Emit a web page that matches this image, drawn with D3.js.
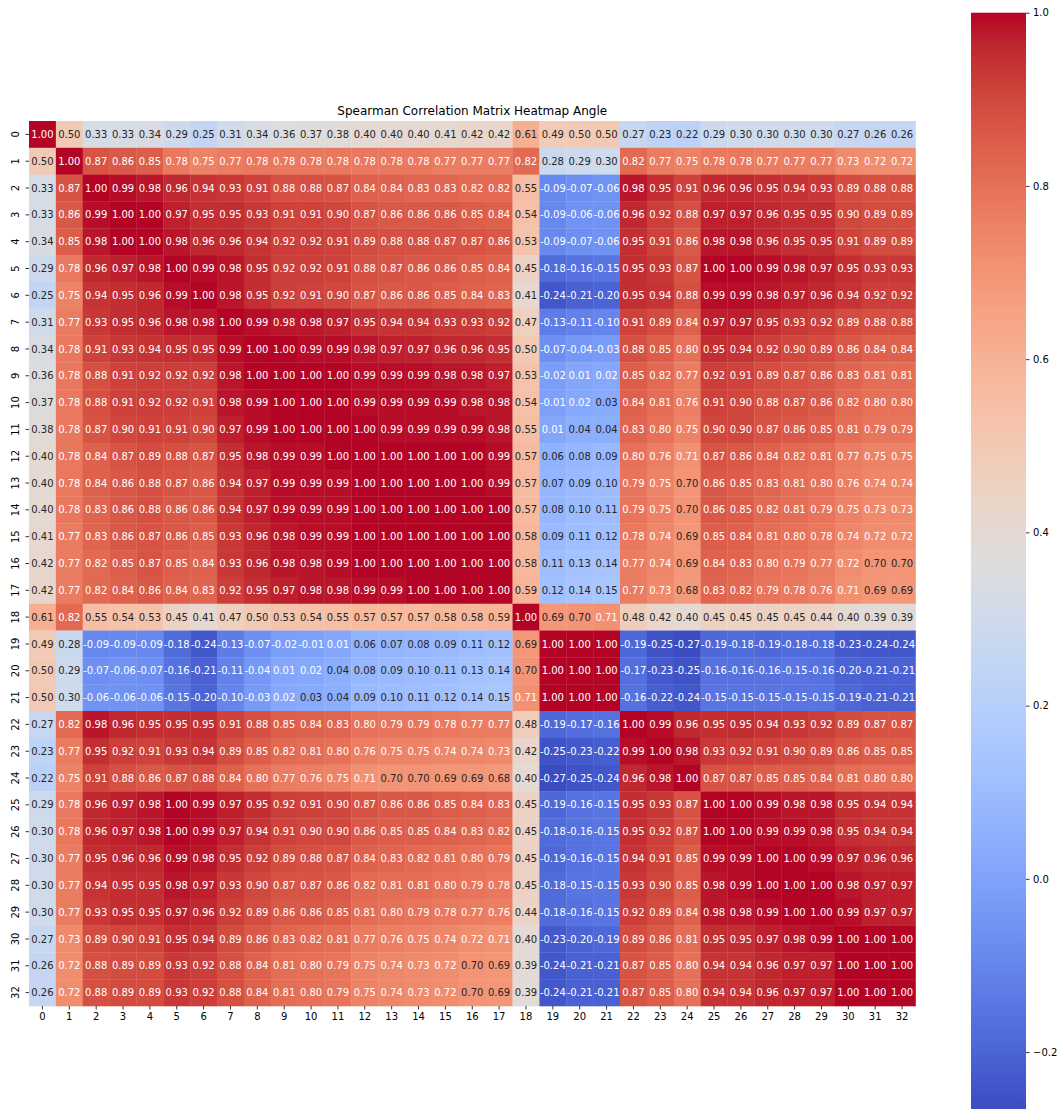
<!DOCTYPE html>
<html>
<head>
<meta charset="utf-8">
<script src="https://cdn.jsdelivr.net/npm/d3@7"></script>
<style>
  body { margin: 0; background: #fff; }
  text { font-family: "DejaVu Sans", sans-serif; }
</style>
</head>
<body>
<div id="chart"></div>
<script>
const title = "Spearman Correlation Matrix Heatmap Angle";

const labels = ["0","1","2","3","4","5","6","7","8","9","10","11","12","13","14","15","16",
  "17","18","19","20","21","22","23","24","25","26","27","28","29","30","31","32"];

// correlation values, one row per variable
const rows = [
  [1.00,0.50,0.33,0.33,0.34,0.29,0.25,0.31,0.34,0.36,0.37,0.38,0.40,0.40,0.40,0.41,0.42,0.42,0.61,0.49,0.50,0.50,0.27,0.23,0.22,0.29,0.30,0.30,0.30,0.30,0.27,0.26,0.26],
  [0.50,1.00,0.87,0.86,0.85,0.78,0.75,0.77,0.78,0.78,0.78,0.78,0.78,0.78,0.78,0.77,0.77,0.77,0.82,0.28,0.29,0.30,0.82,0.77,0.75,0.78,0.78,0.77,0.77,0.77,0.73,0.72,0.72],
  [0.33,0.87,1.00,0.99,0.98,0.96,0.94,0.93,0.91,0.88,0.88,0.87,0.84,0.84,0.83,0.83,0.82,0.82,0.55,-0.09,-0.07,-0.06,0.98,0.95,0.91,0.96,0.96,0.95,0.94,0.93,0.89,0.88,0.88],
  [0.33,0.86,0.99,1.00,1.00,0.97,0.95,0.95,0.93,0.91,0.91,0.90,0.87,0.86,0.86,0.86,0.85,0.84,0.54,-0.09,-0.06,-0.06,0.96,0.92,0.88,0.97,0.97,0.96,0.95,0.95,0.90,0.89,0.89],
  [0.34,0.85,0.98,1.00,1.00,0.98,0.96,0.96,0.94,0.92,0.92,0.91,0.89,0.88,0.88,0.87,0.87,0.86,0.53,-0.09,-0.07,-0.06,0.95,0.91,0.86,0.98,0.98,0.96,0.95,0.95,0.91,0.89,0.89],
  [0.29,0.78,0.96,0.97,0.98,1.00,0.99,0.98,0.95,0.92,0.92,0.91,0.88,0.87,0.86,0.86,0.85,0.84,0.45,-0.18,-0.16,-0.15,0.95,0.93,0.87,1.00,1.00,0.99,0.98,0.97,0.95,0.93,0.93],
  [0.25,0.75,0.94,0.95,0.96,0.99,1.00,0.98,0.95,0.92,0.91,0.90,0.87,0.86,0.86,0.85,0.84,0.83,0.41,-0.24,-0.21,-0.20,0.95,0.94,0.88,0.99,0.99,0.98,0.97,0.96,0.94,0.92,0.92],
  [0.31,0.77,0.93,0.95,0.96,0.98,0.98,1.00,0.99,0.98,0.98,0.97,0.95,0.94,0.94,0.93,0.93,0.92,0.47,-0.13,-0.11,-0.10,0.91,0.89,0.84,0.97,0.97,0.95,0.93,0.92,0.89,0.88,0.88],
  [0.34,0.78,0.91,0.93,0.94,0.95,0.95,0.99,1.00,1.00,0.99,0.99,0.98,0.97,0.97,0.96,0.96,0.95,0.50,-0.07,-0.04,-0.03,0.88,0.85,0.80,0.95,0.94,0.92,0.90,0.89,0.86,0.84,0.84],
  [0.36,0.78,0.88,0.91,0.92,0.92,0.92,0.98,1.00,1.00,1.00,1.00,0.99,0.99,0.99,0.98,0.98,0.97,0.53,-0.02,0.01,0.02,0.85,0.82,0.77,0.92,0.91,0.89,0.87,0.86,0.83,0.81,0.81],
  [0.37,0.78,0.88,0.91,0.92,0.92,0.91,0.98,0.99,1.00,1.00,1.00,0.99,0.99,0.99,0.99,0.98,0.98,0.54,-0.01,0.02,0.03,0.84,0.81,0.76,0.91,0.90,0.88,0.87,0.86,0.82,0.80,0.80],
  [0.38,0.78,0.87,0.90,0.91,0.91,0.90,0.97,0.99,1.00,1.00,1.00,1.00,0.99,0.99,0.99,0.99,0.98,0.55,0.01,0.04,0.04,0.83,0.80,0.75,0.90,0.90,0.87,0.86,0.85,0.81,0.79,0.79],
  [0.40,0.78,0.84,0.87,0.89,0.88,0.87,0.95,0.98,0.99,0.99,1.00,1.00,1.00,1.00,1.00,1.00,0.99,0.57,0.06,0.08,0.09,0.80,0.76,0.71,0.87,0.86,0.84,0.82,0.81,0.77,0.75,0.75],
  [0.40,0.78,0.84,0.86,0.88,0.87,0.86,0.94,0.97,0.99,0.99,0.99,1.00,1.00,1.00,1.00,1.00,0.99,0.57,0.07,0.09,0.10,0.79,0.75,0.70,0.86,0.85,0.83,0.81,0.80,0.76,0.74,0.74],
  [0.40,0.78,0.83,0.86,0.88,0.86,0.86,0.94,0.97,0.99,0.99,0.99,1.00,1.00,1.00,1.00,1.00,1.00,0.57,0.08,0.10,0.11,0.79,0.75,0.70,0.86,0.85,0.82,0.81,0.79,0.75,0.73,0.73],
  [0.41,0.77,0.83,0.86,0.87,0.86,0.85,0.93,0.96,0.98,0.99,0.99,1.00,1.00,1.00,1.00,1.00,1.00,0.58,0.09,0.11,0.12,0.78,0.74,0.69,0.85,0.84,0.81,0.80,0.78,0.74,0.72,0.72],
  [0.42,0.77,0.82,0.85,0.87,0.85,0.84,0.93,0.96,0.98,0.98,0.99,1.00,1.00,1.00,1.00,1.00,1.00,0.58,0.11,0.13,0.14,0.77,0.74,0.69,0.84,0.83,0.80,0.79,0.77,0.72,0.70,0.70],
  [0.42,0.77,0.82,0.84,0.86,0.84,0.83,0.92,0.95,0.97,0.98,0.98,0.99,0.99,1.00,1.00,1.00,1.00,0.59,0.12,0.14,0.15,0.77,0.73,0.68,0.83,0.82,0.79,0.78,0.76,0.71,0.69,0.69],
  [0.61,0.82,0.55,0.54,0.53,0.45,0.41,0.47,0.50,0.53,0.54,0.55,0.57,0.57,0.57,0.58,0.58,0.59,1.00,0.69,0.70,0.71,0.48,0.42,0.40,0.45,0.45,0.45,0.45,0.44,0.40,0.39,0.39],
  [0.49,0.28,-0.09,-0.09,-0.09,-0.18,-0.24,-0.13,-0.07,-0.02,-0.01,0.01,0.06,0.07,0.08,0.09,0.11,0.12,0.69,1.00,1.00,1.00,-0.19,-0.25,-0.27,-0.19,-0.18,-0.19,-0.18,-0.18,-0.23,-0.24,-0.24],
  [0.50,0.29,-0.07,-0.06,-0.07,-0.16,-0.21,-0.11,-0.04,0.01,0.02,0.04,0.08,0.09,0.10,0.11,0.13,0.14,0.70,1.00,1.00,1.00,-0.17,-0.23,-0.25,-0.16,-0.16,-0.16,-0.15,-0.16,-0.20,-0.21,-0.21],
  [0.50,0.30,-0.06,-0.06,-0.06,-0.15,-0.20,-0.10,-0.03,0.02,0.03,0.04,0.09,0.10,0.11,0.12,0.14,0.15,0.71,1.00,1.00,1.00,-0.16,-0.22,-0.24,-0.15,-0.15,-0.15,-0.15,-0.15,-0.19,-0.21,-0.21],
  [0.27,0.82,0.98,0.96,0.95,0.95,0.95,0.91,0.88,0.85,0.84,0.83,0.80,0.79,0.79,0.78,0.77,0.77,0.48,-0.19,-0.17,-0.16,1.00,0.99,0.96,0.95,0.95,0.94,0.93,0.92,0.89,0.87,0.87],
  [0.23,0.77,0.95,0.92,0.91,0.93,0.94,0.89,0.85,0.82,0.81,0.80,0.76,0.75,0.75,0.74,0.74,0.73,0.42,-0.25,-0.23,-0.22,0.99,1.00,0.98,0.93,0.92,0.91,0.90,0.89,0.86,0.85,0.85],
  [0.22,0.75,0.91,0.88,0.86,0.87,0.88,0.84,0.80,0.77,0.76,0.75,0.71,0.70,0.70,0.69,0.69,0.68,0.40,-0.27,-0.25,-0.24,0.96,0.98,1.00,0.87,0.87,0.85,0.85,0.84,0.81,0.80,0.80],
  [0.29,0.78,0.96,0.97,0.98,1.00,0.99,0.97,0.95,0.92,0.91,0.90,0.87,0.86,0.86,0.85,0.84,0.83,0.45,-0.19,-0.16,-0.15,0.95,0.93,0.87,1.00,1.00,0.99,0.98,0.98,0.95,0.94,0.94],
  [0.30,0.78,0.96,0.97,0.98,1.00,0.99,0.97,0.94,0.91,0.90,0.90,0.86,0.85,0.85,0.84,0.83,0.82,0.45,-0.18,-0.16,-0.15,0.95,0.92,0.87,1.00,1.00,0.99,0.99,0.98,0.95,0.94,0.94],
  [0.30,0.77,0.95,0.96,0.96,0.99,0.98,0.95,0.92,0.89,0.88,0.87,0.84,0.83,0.82,0.81,0.80,0.79,0.45,-0.19,-0.16,-0.15,0.94,0.91,0.85,0.99,0.99,1.00,1.00,0.99,0.97,0.96,0.96],
  [0.30,0.77,0.94,0.95,0.95,0.98,0.97,0.93,0.90,0.87,0.87,0.86,0.82,0.81,0.81,0.80,0.79,0.78,0.45,-0.18,-0.15,-0.15,0.93,0.90,0.85,0.98,0.99,1.00,1.00,1.00,0.98,0.97,0.97],
  [0.30,0.77,0.93,0.95,0.95,0.97,0.96,0.92,0.89,0.86,0.86,0.85,0.81,0.80,0.79,0.78,0.77,0.76,0.44,-0.18,-0.16,-0.15,0.92,0.89,0.84,0.98,0.98,0.99,1.00,1.00,0.99,0.97,0.97],
  [0.27,0.73,0.89,0.90,0.91,0.95,0.94,0.89,0.86,0.83,0.82,0.81,0.77,0.76,0.75,0.74,0.72,0.71,0.40,-0.23,-0.20,-0.19,0.89,0.86,0.81,0.95,0.95,0.97,0.98,0.99,1.00,1.00,1.00],
  [0.26,0.72,0.88,0.89,0.89,0.93,0.92,0.88,0.84,0.81,0.80,0.79,0.75,0.74,0.73,0.72,0.70,0.69,0.39,-0.24,-0.21,-0.21,0.87,0.85,0.80,0.94,0.94,0.96,0.97,0.97,1.00,1.00,1.00],
  [0.26,0.72,0.88,0.89,0.89,0.93,0.92,0.88,0.84,0.81,0.80,0.79,0.75,0.74,0.73,0.72,0.70,0.69,0.39,-0.24,-0.21,-0.21,0.87,0.85,0.80,0.94,0.94,0.96,0.97,0.97,1.00,1.00,1.00]
];

const cbTicks = [-0.2, 0.0, 0.2, 0.4, 0.6, 0.8, 1.0];

// matplotlib "coolwarm" control points (33 evenly spaced)
const cwR = [0.2298057,0.26623388,0.30386891,0.342804478,0.38301334,0.424369608,0.46666708,0.509635204,0.552953156,0.596262162,0.639176211,0.681291281,0.722193294,0.761464949,0.798691636,0.833466556,0.865395197,0.897787179,0.924127593,0.944468518,0.958852946,0.96732803,0.969954137,0.966811177,0.958003065,0.943660866,0.923944917,0.89904617,0.869186849,0.834620542,0.795631745,0.752534934,0.705673158];
const cwG = [0.298717966,0.353094838,0.406535296,0.458757618,0.50941904,0.558148092,0.604562568,0.648280772,0.688929332,0.726149107,0.759599947,0.788964712,0.813952739,0.834302879,0.849786142,0.860207984,0.86541021,0.848937047,0.827384882,0.800927443,0.769767752,0.734132809,0.694266682,0.650421156,0.602842431,0.551750968,0.49730856,0.439559467,0.378313092,0.312874446,0.24128379,0.157246067,0.01555616];
const cwB = [0.753683153,0.801466763,0.84495867,0.883725899,0.917387822,0.945619588,0.968154911,0.98478814,0.995375608,0.999836203,0.998151185,0.990363227,0.976574709,0.956945269,0.931688648,0.901068838,0.865395561,0.820880546,0.774508472,0.726736146,0.678007945,0.628751763,0.579375448,0.530263762,0.481775914,0.434243684,0.387970225,0.343229596,0.300267182,0.259301199,0.221280963,0.184995075,0.150232812];

function coolwarm(t) {
  const k = Math.max(0, Math.min(1, t)) * 32;
  const i = Math.min(31, Math.floor(k)), f = k - i;
  const c = a => a[i] + (a[i + 1] - a[i]) * f;
  return [c(cwR), c(cwG), c(cwB)];
}
const toCss = c => d3.rgb(c[0] * 255, c[1] * 255, c[2] * 255).formatHex();

// same rule seaborn uses to pick the annotation colour
function luminance(c) {
  const lin = c.map(v => v <= 0.03928 ? v / 12.92 : Math.pow((v + 0.055) / 1.055, 2.4));
  return 0.2126 * lin[0] + 0.7152 * lin[1] + 0.0722 * lin[2];
}

// annotations use a plain hyphen as minus sign
const annotFmt = d3.formatLocale({ decimal: ".", thousands: ",", grouping: [3], currency: ["", ""], minus: "-" }).format(".2f");

const width = 1063, height = 1109;
const cells = [];
rows.forEach((r, i) => r.forEach((v, j) => cells.push({ row: labels[i], col: labels[j], v })));
const vmin = d3.min(cells, d => d.v), vmax = d3.max(cells, d => d.v);
const norm = d3.scaleLinear().domain([vmin, vmax]).range([0, 1]);

const svg = d3.select("#chart").append("svg")
  .attr("width", width)
  .attr("height", height)
  .style("display", "block");

const x = d3.scaleBand().domain(labels).range([29, 915.5]);
const y = d3.scaleBand().domain(labels).range([121, 1006]);

// cells
svg.append("g")
  .selectAll("rect")
  .data(cells)
  .join("rect")
  .attr("x", d => x(d.col))
  .attr("y", d => y(d.row))
  .attr("width", x.bandwidth() + 0.3)
  .attr("height", y.bandwidth() + 0.3)
  .attr("fill", d => toCss(coolwarm(norm(d.v))));

// annotations
svg.append("g")
  .selectAll("text")
  .data(cells)
  .join("text")
  .attr("x", d => x(d.col) + x.bandwidth() / 2)
  .attr("y", d => y(d.row) + y.bandwidth() / 2)
  .attr("dy", "0.36em")
  .attr("text-anchor", "middle")
  .attr("font-size", 10)
  .attr("fill", d => luminance(coolwarm(norm(d.v))) > 0.408 ? "#262626" : "#ffffff")
  .text(d => annotFmt(d.v));

// x axis
const gx = svg.append("g")
  .attr("transform", `translate(0,${y.range()[1]})`)
  .call(d3.axisBottom(x).tickSize(3.5).tickPadding(3.5));
gx.select(".domain").remove();
gx.selectAll(".tick line").attr("stroke", "#000").attr("stroke-width", 0.8);
gx.selectAll(".tick text").attr("font-size", 10).attr("fill", "#000")
  .style("font-family", "DejaVu Sans");

// y axis, labels turned upright like seaborn does
const gy = svg.append("g")
  .attr("transform", `translate(${x.range()[0]},0)`)
  .call(d3.axisLeft(y).tickSize(3.5).tickPadding(3.5));
gy.select(".domain").remove();
gy.selectAll(".tick line").attr("stroke", "#000").attr("stroke-width", 0.8);
gy.selectAll(".tick text")
  .attr("x", null)
  .attr("dy", "0.35em")
  .attr("text-anchor", "middle")
  .attr("transform", "translate(-14,0) rotate(-90)")
  .attr("font-size", 10).attr("fill", "#000")
  .style("font-family", "DejaVu Sans");

// title
svg.append("text")
  .attr("x", (x.range()[0] + x.range()[1]) / 2)
  .attr("y", 115)
  .attr("text-anchor", "middle")
  .attr("font-size", 12)
  .attr("fill", "#000")
  .text(title);

// colorbar
const cbX = 971, cbW = 55, cbTop = 12.7, cbH = 1100;
const cbY = d3.scaleLinear().domain([vmin, vmax]).range([cbTop + cbH, cbTop]);

const grad = svg.append("defs").append("linearGradient")
  .attr("id", "cw")
  .attr("x1", 0).attr("y1", 1).attr("x2", 0).attr("y2", 0);
grad.selectAll("stop")
  .data(cwR.map((_, i) => i / 32))
  .join("stop")
  .attr("offset", d => d)
  .attr("stop-color", d => toCss(coolwarm(d)));

svg.append("rect")
  .attr("x", cbX)
  .attr("y", cbY(vmax))
  .attr("width", cbW)
  .attr("height", cbY(vmin) - cbY(vmax))
  .attr("fill", "url(#cw)");

const gc = svg.append("g")
  .attr("transform", `translate(${cbX + cbW},0)`)
  .call(d3.axisRight(cbY).tickValues(cbTicks).tickFormat(d3.format(".1f")).tickSize(3.5).tickPadding(3.5));
gc.select(".domain").remove();
gc.selectAll(".tick line").attr("stroke", "#000").attr("stroke-width", 0.8);
gc.selectAll(".tick text").attr("font-size", 10).attr("fill", "#000")
  .style("font-family", "DejaVu Sans");
</script>
</body>
</html>
